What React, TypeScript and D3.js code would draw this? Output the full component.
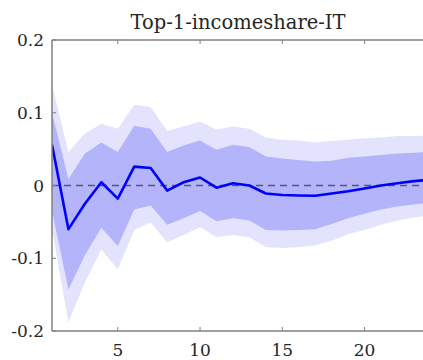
import React from 'react';
import * as d3 from 'd3';

const title = 'Top-1-incomeshare-IT';
const horizon = [1, 2, 3, 4, 5, 6, 7, 8, 9, 10, 11, 12, 13, 14, 15, 16, 17, 18, 19, 20, 21, 22, 23, 24];
const median = [0.056, -0.06, -0.025, 0.0045, -0.018, 0.026, 0.024, -0.007, 0.0045, 0.011, -0.003, 0.003, 0.0, -0.011, -0.013, -0.0137, -0.014, -0.011, -0.008, -0.004, 0.0, 0.003, 0.006, 0.008];
const upper68 = [0.1, 0.009, 0.044, 0.059, 0.046, 0.082, 0.078, 0.046, 0.055, 0.062, 0.049, 0.056, 0.053, 0.04, 0.037, 0.035, 0.033, 0.034, 0.038, 0.04, 0.042, 0.044, 0.045, 0.046];
const lower68 = [-0.035, -0.143, -0.096, -0.058, -0.083, -0.033, -0.0275, -0.054, -0.045, -0.035, -0.049, -0.045, -0.048, -0.061, -0.062, -0.061, -0.06, -0.053, -0.045, -0.039, -0.033, -0.029, -0.026, -0.024];
const upper90 = [0.138, 0.046, 0.071, 0.085, 0.078, 0.111, 0.108, 0.075, 0.081, 0.088, 0.077, 0.081, 0.078, 0.066, 0.063, 0.062, 0.059, 0.061, 0.063, 0.065, 0.066, 0.068, 0.068, 0.069];
const lower90 = [-0.06, -0.188, -0.133, -0.088, -0.115, -0.061, -0.051, -0.078, -0.068, -0.057, -0.071, -0.068, -0.071, -0.085, -0.086, -0.085, -0.082, -0.076, -0.067, -0.061, -0.054, -0.048, -0.044, -0.041];
const xTicks = [5, 10, 15, 20];
const yTicks = [-0.2, -0.1, 0, 0.1, 0.2];
const yTickLabels = ['-0.2', '-0.1', '0', '0.1', '0.2'];

const W = 423;
const H = 360;
const left = 52;
const top = 40;
const bottom = 331;

export default function App() {
  const x = d3.scaleLinear().domain([1, 24]).range([left, left + 23 * 16.45]);
  const y = d3.scaleLinear().domain([-0.2, 0.2]).range([bottom, top]);

  const band = (lo: number[], hi: number[]) =>
    d3.area<number>()
      .x((d) => x(d))
      .y0((_, i) => y(lo[i]))
      .y1((_, i) => y(hi[i]))(horizon) || '';

  const line = d3.line<number>()
    .x((d) => x(d))
    .y((_, i) => y(median[i]))(horizon) || '';

  const axisColor = '#808080';
  const font = "'DejaVu Serif'";

  return (
    <svg width={W} height={H} style={{ position: 'absolute', left: 0, top: 0, background: '#fff' }}>
      <defs>
        <clipPath id="plot">
          <rect x={left} y={top} width={W - left} height={bottom - top} />
        </clipPath>
      </defs>
      <g clipPath="url(#plot)">
        <path d={band(lower90, upper90)} fill="#e3e3fd" />
        <path d={band(lower68, upper68)} fill="#b4b4fb" />
        <line x1={left} x2={W} y1={y(0)} y2={y(0)} stroke="#555577" strokeWidth={1.5} strokeDasharray="7,5" />
        <path d={line} fill="none" stroke="#0000ff" strokeWidth={2.6} strokeLinejoin="round" />
      </g>
      {/* frame */}
      <line x1={left} x2={W} y1={top} y2={top} stroke={axisColor} strokeWidth={1.5} />
      <line x1={left} x2={W} y1={bottom} y2={bottom} stroke={axisColor} strokeWidth={1.5} />
      <line x1={left} x2={left} y1={top} y2={bottom} stroke={axisColor} strokeWidth={1.5} />
      {xTicks.map((t) => (
        <g key={t}>
          <line x1={x(t)} x2={x(t)} y1={bottom} y2={bottom - 4} stroke={axisColor} strokeWidth={1} />
          <line x1={x(t)} x2={x(t)} y1={top} y2={top + 4} stroke={axisColor} strokeWidth={1} />
          <text x={x(t)} y={356} textAnchor="middle" style={{ fontFamily: font }} fontSize={17} fill="#262626">
            {t}
          </text>
        </g>
      ))}
      {yTicks.map((t, i) => (
        <g key={t}>
          <line x1={left} x2={left + 4} y1={y(t)} y2={y(t)} stroke={axisColor} strokeWidth={1} />
          <text x={left - 8} y={y(t) + 6} textAnchor="end" style={{ fontFamily: font }} fontSize={17} fill="#262626">
            {yTickLabels[i]}
          </text>
        </g>
      ))}
      <text x={238} y={29} textAnchor="middle" style={{ fontFamily: font }} fontSize={19.5} fill="#262626">
        {title}
      </text>
    </svg>
  );
}
